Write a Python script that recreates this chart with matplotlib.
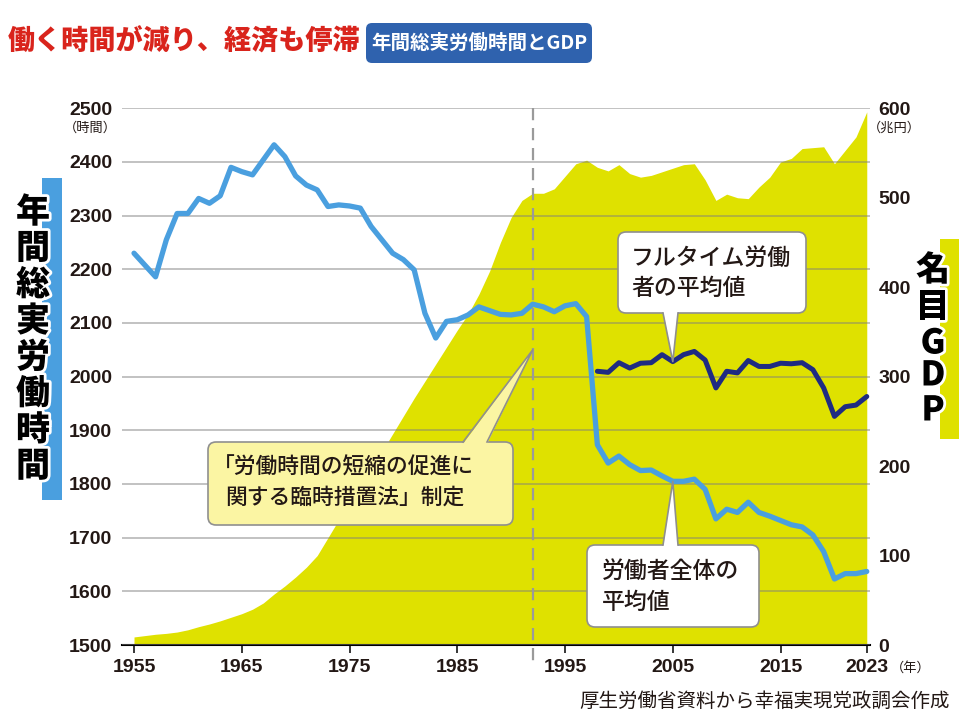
import matplotlib
matplotlib.use('Agg')
import matplotlib.pyplot as plt
import matplotlib.transforms as mtransforms
import matplotlib.patheffects as pe
from matplotlib.patches import FancyBboxPatch, Polygon, Rectangle
from matplotlib.lines import Line2D

plt.rcParams['font.family'] = ['Noto Sans CJK JP', 'DejaVu Sans']

# --- data ---
years = list(range(1955, 2024))
hours_all = [2230, 2208, 2186, 2255, 2304, 2304, 2332, 2323, 2337, 2390,
             2382, 2376, 2404, 2432, 2410, 2374, 2357, 2348, 2317, 2320,
             2318, 2314, 2280, 2255, 2230, 2218, 2199, 2118, 2072, 2103,
             2106, 2115, 2130, 2123, 2116, 2115, 2118, 2135, 2130, 2121,
             2132, 2136, 2112,
             1873, 1839, 1852, 1836, 1825, 1826, 1815, 1805, 1805, 1809,
             1790, 1735, 1753, 1747, 1766, 1747, 1740, 1732, 1724, 1720,
             1705, 1674, 1623, 1633, 1633, 1637]
ft_years = list(range(1998, 2024))
hours_fulltime = [2010, 2008, 2026, 2016, 2025, 2026, 2041, 2028, 2041, 2047,
                  2031, 1979, 2010, 2007, 2030, 2019, 2019, 2025, 2024, 2026,
                  2013, 1979, 1926, 1944, 1947, 1963]
gdp = [9, 10.5, 12, 13, 14.5, 17, 20.5, 23.5, 27, 31,
       35, 40, 47, 57, 66, 76, 87, 100, 120, 140,
       158, 177, 196, 216, 236, 256, 276, 295, 314, 333,
       352, 370, 392, 418, 450, 478, 497, 505, 505, 510,
       524, 538, 542, 534, 530, 537, 527, 523, 525, 529,
       533, 537, 538, 520, 497, 504, 500, 499, 512, 523,
       540, 544, 555, 556, 557, 538, 553, 568, 596]
law_year = 1992
law_tip_hours = 2050
callout_year = 2005

x_ticks = [1955, 1965, 1975, 1985, 1995, 2005, 2015, 2023]
hour_ticks = list(range(1500, 2501, 100))
gdp_ticks = list(range(0, 601, 100))

title = '働く時間が減り、経済も停滞'
subtitle = '年間総実労働時間とGDP'
left_label = '年間総実労働時間'
right_label = '名目GDP'
source = '厚生労働省資料から幸福実現党政調会作成'

W, H = 969, 725
YELLOW = '#dfe100'
LIGHT_BLUE = '#4a9fdf'
NAVY = '#1f2b82'
INK = '#231815'
NUM_FONT = 'Liberation Sans'

fig = plt.figure(figsize=(W / 100, H / 100), dpi=100)
px = mtransforms.IdentityTransform()


def top(y):
    return H - y


# axes: GDP area underneath, hours lines on top
ax_g = fig.add_axes([122 / W, 1 - 645 / H, (870 - 122) / W, (645 - 108.3) / H])
ax_h = ax_g.twinx()
ax_g.yaxis.tick_right()
ax_h.yaxis.tick_left()

ax_g.set_xlim(1953.886, 2023.3)
ax_g.set_ylim(0, 600)
ax_h.set_ylim(1500, 2500)

ax_g.fill_between(years, gdp, 0, color=YELLOW, lw=0, zorder=1)

ax_h.grid(axis='y', color='#7f7f7f', alpha=0.6, lw=1.1)
ax_h.set_axisbelow(True)
ax_h.plot([law_year, law_year], [2500, 1470], color='#9a9a9a', lw=1.6,
          dashes=(5.5, 3.5), clip_on=False, zorder=2)
ax_h.plot(years, hours_all, color=LIGHT_BLUE, lw=3.8,
          solid_joinstyle='round', solid_capstyle='round', zorder=4)
ax_h.plot(ft_years, hours_fulltime, color=NAVY, lw=3.6,
          solid_joinstyle='round', solid_capstyle='round', zorder=5)

for a in (ax_g, ax_h):
    for s in a.spines.values():
        s.set_visible(False)
ax_g.spines['bottom'].set_visible(True)
ax_g.spines['bottom'].set_color('black')
ax_g.spines['bottom'].set_linewidth(1.5)

ax_g.set_xticks(x_ticks, labels=[str(v) for v in x_ticks],
                fontfamily=NUM_FONT, fontsize=14, fontweight='bold', color=INK)
ax_g.tick_params(axis='x', length=5.8, width=1.1, color='black', pad=4.5)
ax_g.set_yticks(gdp_ticks, labels=[str(v) for v in gdp_ticks],
                fontfamily=NUM_FONT, fontsize=14, fontweight='bold', color=INK)
ax_g.tick_params(axis='y', length=0, pad=6)
ax_h.set_yticks(hour_ticks, labels=[str(v) for v in hour_ticks],
                fontfamily=NUM_FONT, fontsize=14, fontweight='bold', color=INK)
ax_h.tick_params(axis='y', length=0, pad=7)

# unit labels
fig.text(90, top(128), '（時間）', transform=px, ha='center', va='center', fontsize=9.5, color=INK)
fig.text(894, top(128), '（兆円）', transform=px, ha='center', va='center', fontsize=9.5, color=INK)
fig.text(891, top(668), '（年）', transform=px, ha='left', va='center', fontsize=9.5, color=INK)

# title and subtitle box
fig.text(8, top(41), title, transform=px, ha='left', va='center',
         fontsize=19.5, fontweight='heavy', color='#d9241c')
fig.add_artist(FancyBboxPatch((366, top(63)), 226, 40,
                              boxstyle='round,pad=0,rounding_size=6',
                              fc='#2f62ae', ec='none', transform=px))
fig.text(479, top(43), subtitle, transform=px, ha='center', va='center',
         fontsize=14, fontweight='bold', color='white')

# vertical axis titles
stroke = [pe.withStroke(linewidth=4, foreground='white')]
fig.add_artist(Rectangle((42, top(500)), 20, 322, fc=LIGHT_BLUE, ec='none', transform=px))
for i, ch in enumerate(left_label):
    fig.text(33, top(212 + 36.3 * i), ch, transform=px, ha='center', va='center',
             fontsize=24.5, fontweight='heavy', color='black', path_effects=stroke)
fig.add_artist(Rectangle((940, top(439)), 19, 200, fc=YELLOW, ec='none', transform=px))
for ch, yc in zip(right_label, [270, 307, 343, 375, 410]):
    fig.text(933, top(yc), ch, transform=px, ha='center', va='center',
             fontsize=24.5, fontweight='heavy', color='black', path_effects=stroke)


# callouts
def callout(x0, y0, x1, y1, tip, bx0, bx1, side, fc, lines, size):
    fig.add_artist(FancyBboxPatch((x0, top(y1)), x1 - x0, y1 - y0,
                                  boxstyle='round,pad=0,rounding_size=8',
                                  fc=fc, ec='#8f8f8f', lw=1.2, transform=px, zorder=10))
    ey = y0 if side == 'top' else y1
    inner = ey + 2 if side == 'top' else ey - 2
    fig.add_artist(Polygon([(bx0, top(inner)), tip, (bx1, top(inner))], closed=True,
                           fc=fc, ec='none', transform=px, zorder=11))
    fig.add_artist(Line2D([bx0, tip[0], bx1], [top(ey), tip[1], top(ey)],
                          color='#8f8f8f', lw=1.2, transform=px, zorder=12))
    for s, x, yc in lines:
        fig.text(x, top(yc), s, transform=px, ha='left', va='center', fontsize=size,
                 fontweight='medium', color=INK, zorder=13)


tip_law = ax_h.transData.transform((law_year, law_tip_hours))
tip_ft = ax_h.transData.transform((callout_year, hours_fulltime[ft_years.index(callout_year)]))
tip_all = ax_h.transData.transform((callout_year, hours_all[years.index(callout_year)]))

callout(208, 442, 513, 525, tip_law, 463, 487, 'top', '#fbf5a3',
        [('「労働時間の短縮の促進に', 213, 468), ('関する臨時措置法」制定', 225, 498)], 15.7)
callout(618, 232, 806, 313, tip_ft, 663, 678, 'bottom', 'white',
        [('フルタイム労働', 631, 258), ('者の平均値', 631, 288)], 16.5)
callout(587, 545, 759, 627, tip_all, 663, 678, 'top', 'white',
        [('労働者全体の', 602, 571), ('平均値', 602, 602)], 16.5)

fig.text(950, top(701), source, transform=px, ha='right', va='center',
         fontsize=14, color=INK)

fig.savefig('out.png', dpi=100, facecolor='white')
